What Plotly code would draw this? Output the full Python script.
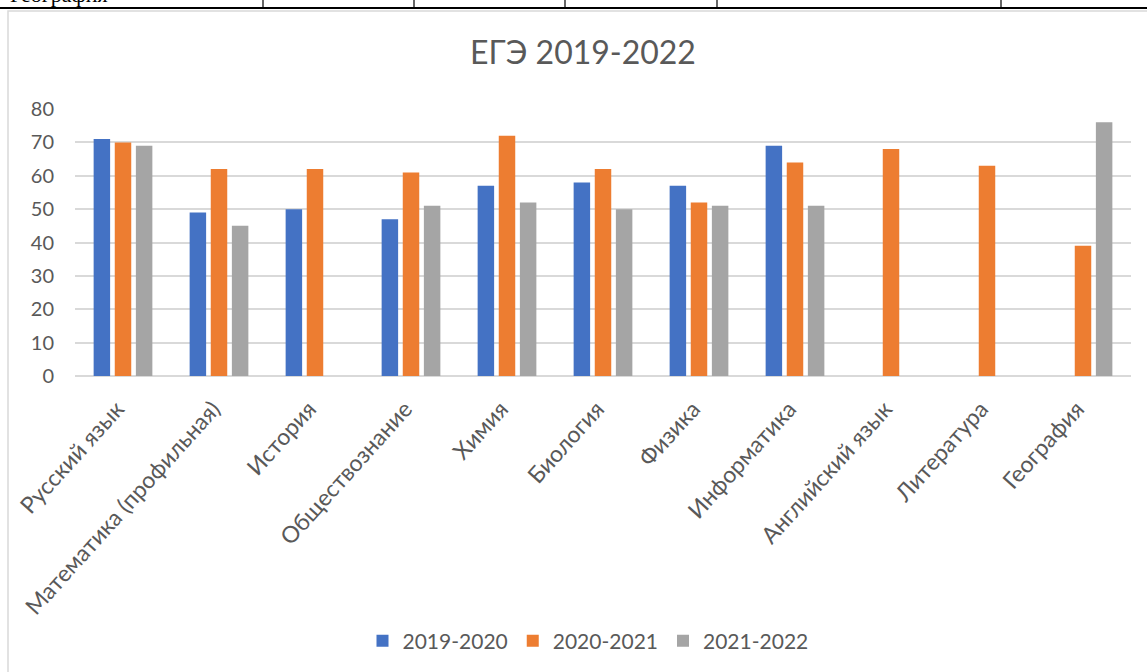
import plotly.graph_objects as go

categories = ["Русский язык", "Математика (профильная)", "История", "Обществознание",
              "Химия", "Биология", "Физика", "Информатика", "Английский язык",
              "Литература", "География"]
series_names = ["2019-2020", "2020-2021", "2021-2022"]
vals_2019_2020 = [71, 49, 50, 47, 57, 58, 57, 69, None, None, None]
vals_2020_2021 = [70, 62, 62, 61, 72, 62, 52, 64, 68, 63, 39]
vals_2021_2022 = [69, 45, None, 51, 52, 50, 51, 51, None, None, 76]
colors = ["#4472C4", "#ED7D31", "#A5A5A5"]
y_ticks = [0, 10, 20, 30, 40, 50, 60, 70, 80]
title_text = "ЕГЭ 2019-2022"

FONT = "Lato, 'Open Sans', sans-serif"
TXT = "#595959"

fig = go.Figure()
for name, vals, col in zip(series_names, [vals_2019_2020, vals_2020_2021, vals_2021_2022], colors):
    fig.add_trace(go.Bar(x=categories, y=vals, name=name, marker=dict(color=col, line=dict(width=0))))

# plot area pixel geometry
W, H = 1147, 672
L, R, T, B = 75, 16, 109, 296
pw, ph = W - L - R, H - T - B

def px(x):
    return (x - L) / pw

def py(y):
    return (H - B - y) / ph

shapes = [
    # chart outer frame
    dict(type="rect", xref="paper", yref="paper", x0=px(8), x1=px(1160), y0=py(690), y1=py(11),
         line=dict(color="#d9d9d9", width=1.5), fillcolor="rgba(0,0,0,0)", layer="below"),
    # table remnants at the top
    dict(type="line", xref="paper", yref="paper", x0=px(0), x1=px(1147), y0=py(8), y1=py(8),
         line=dict(color="black", width=2)),
]
for xs in [263, 414, 565, 717, 1001]:
    shapes.append(dict(type="line", xref="paper", yref="paper", x0=px(xs), x1=px(xs),
                       y0=py(-2), y1=py(8), line=dict(color="black", width=1.2)))

fig.update_layout(
    width=W, height=H,
    margin=dict(l=L, r=R, t=T, b=B, autoexpand=False),
    paper_bgcolor="white", plot_bgcolor="white",
    title=dict(text=title_text, xref="container", x=583 / W, xanchor="center",
               y=1 - 53 / H, yanchor="middle",
               font=dict(family=FONT, size=32, color=TXT)),
    barmode="group", bargap=0.34, bargroupgap=0.22,
    xaxis=dict(range=[-0.5, 10.5], tickangle=-48, showgrid=False, showline=False, ticks="",
               tickfont=dict(family=FONT, size=23, color=TXT), ticklabelstandoff=14,
               ticklabelshift=-6),
    yaxis=dict(range=[0, 80], tickvals=y_ticks, showgrid=True, gridcolor="#d9d9d9", gridwidth=1.5,
               zeroline=True, zerolinecolor="#d9d9d9", zerolinewidth=1.5, showline=False,
               ticks="", tickfont=dict(family=FONT, size=20, color=TXT), ticklabelstandoff=20),
    legend=dict(orientation="h", x=px(588), xanchor="center", y=py(641), yanchor="middle",
                font=dict(family=FONT, size=21, color=TXT), itemsizing="constant", tracegroupgap=0),
    shapes=shapes,
    annotations=[dict(text="География", xref="paper", yref="paper", x=px(8), xanchor="left",
                      y=py(9), yanchor="bottom", showarrow=False,
                      font=dict(family="Liberation Serif", size=22, color="black"))],
)

fig.write_html("out.html", post_script="document.body.style.margin='0';",
               config={"displayModeBar": False})
